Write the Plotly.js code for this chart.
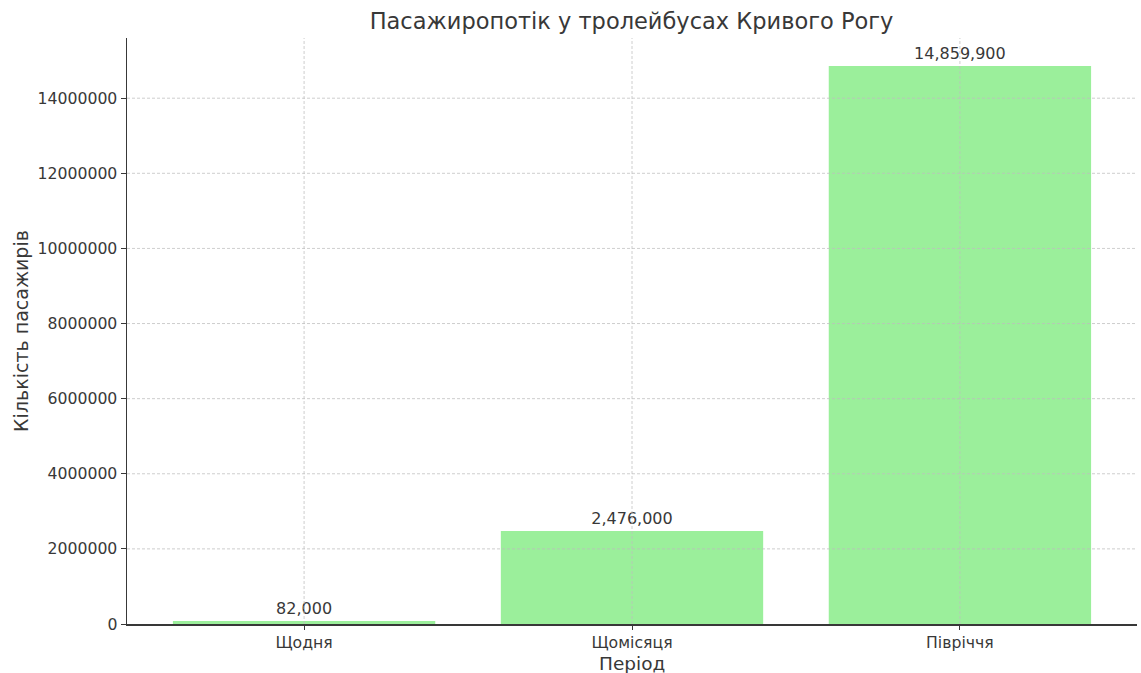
<!DOCTYPE html>
<html>
<head>
<meta charset="utf-8">
<script src="https://cdn.plot.ly/plotly-3.0.1.min.js"></script>
<style>html,body{margin:0;padding:0;background:#fff;}#chart{width:1141px;height:673px;}</style>
</head>
<body>
<div id="chart"></div>
<script>
const categories = ["Щодня", "Щомісяця", "Півріччя"];
const passengers = [82000, 2476000, 14859900];
const yTicks = [0, 2000000, 4000000, 6000000, 8000000, 10000000, 12000000, 14000000];
const xTitle = "Період";
const yTitle = "Кількість пасажирів";
const chartTitle = "Пасажиропотік у тролейбусах Кривого Рогу";

const font = "DejaVu Sans, sans-serif";
const textColor = "#383838";
const gridStyle = {color: "rgba(190,190,190,0.75)", width: 1, dash: "3px,2px"};

const shapes = [];
yTicks.forEach(v => {
  if (v === 0) return;
  shapes.push({type: "line", layer: "above", xref: "paper", x0: 0, x1: 1, yref: "y", y0: v, y1: v, line: gridStyle});
});
categories.forEach(c => {
  shapes.push({type: "line", layer: "above", xref: "x", x0: c, x1: c, yref: "paper", y0: 0, y1: 1, line: gridStyle});
});

const trace = {
  type: "bar",
  x: categories,
  y: passengers,
  width: 0.8,
  marker: {color: "#9bef9b", line: {width: 0}},
  text: passengers.map(v => v.toLocaleString("en-US")),
  textposition: "outside",
  textfont: {family: font, size: 16, color: textColor},
  cliponaxis: false,
  hoverinfo: "x+y"
};

const layout = {
  width: 1141, height: 673,
  margin: {l: 127, r: 4, t: 38, b: 49, pad: 0},
  paper_bgcolor: "#fff", plot_bgcolor: "#fff",
  font: {family: font, color: textColor, size: 16},
  title: {text: chartTitle, font: {family: font, size: 22.5, color: textColor}, x: 0.5535, xanchor: "center", y: 0.969, yanchor: "middle"},
  showlegend: false,
  bargap: 0.2,
  xaxis: {
    type: "category",
    range: [-0.54, 2.54],
    showgrid: false,
    showline: true, linecolor: textColor, linewidth: 1.5,
    ticks: "outside", ticklen: 4, tickcolor: textColor, tickwidth: 1,
    tickfont: {family: font, size: 15.7, color: textColor},
    zeroline: false,
    fixedrange: true
  },
  yaxis: {
    range: [0, 15602895],
    tickvals: yTicks,
    ticktext: yTicks.map(v => String(v)),
    showgrid: false,
    showline: true, linecolor: textColor, linewidth: 1.5,
    ticks: "outside", ticklen: 5, tickcolor: textColor, tickwidth: 1,
    tickfont: {family: font, size: 15.7, color: textColor},
    title: {text: yTitle, font: {family: font, size: 19, color: textColor}, standoff: 4},
    zeroline: false,
    fixedrange: true
  },
  annotations: [{
    text: xTitle, xref: "paper", yref: "paper", x: 0.5, y: 0, xanchor: "center", yanchor: "middle",
    yshift: -39, borderpad: 0, showarrow: false, font: {family: font, size: 18.5, color: textColor}
  }],
  shapes: shapes
};

Plotly.newPlot("chart", [trace], layout, {displayModeBar: false, staticPlot: true});
</script>
</body>
</html>
